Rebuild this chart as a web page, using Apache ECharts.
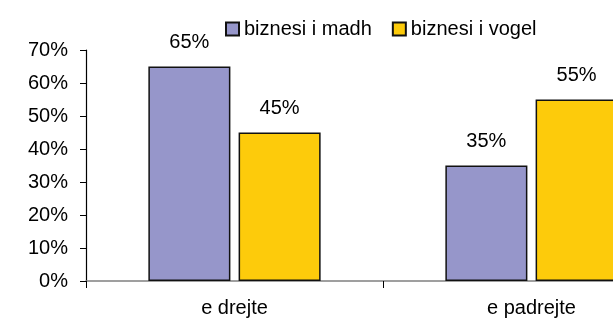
<!DOCTYPE html>
<html>
<head>
<meta charset="utf-8">
<script src="https://cdn.jsdelivr.net/npm/echarts@6/dist/echarts.min.js"></script>
<style>
  html, body { margin: 0; padding: 0; background: #fff; overflow: hidden; }
  /* the plot runs past the right edge of the 613px view */
  #chart { width: 680px; height: 326px; }
</style>
</head>
<body>
<div id="chart"></div>
<script>
// Categories and the two business-size series (percent)
const categories = ['e drejte', 'e padrejte'];
const seriesNames = ['biznesi i madh', 'biznesi i vogel'];
const bigBusiness = [65, 35];
const smallBusiness = [45, 55];
const yTicks = [0, 10, 20, 30, 40, 50, 60, 70];

const font = 'Liberation Sans, Arial, sans-serif';
const chart = echarts.init(document.getElementById('chart'));

function barSeries(name, values, color) {
  return {
    name: name,
    type: 'bar',
    data: values,
    barGap: '10%',
    barCategoryGap: '42%',
    itemStyle: { color: color, borderColor: '#111', borderWidth: 1.5 },
    label: {
      show: true,
      position: 'top',
      distance: 14,
      formatter: p => p.value + '%',
      color: '#000',
      fontFamily: font,
      fontSize: 20
    }
  };
}

chart.setOption({
  animation: false,
  backgroundColor: '#fff',
  grid: { left: 86, top: 50, bottom: 45, right: 0, containLabel: false },
  legend: {
    left: 220,
    top: 14,
    itemWidth: 13,
    itemHeight: 13,
    itemGap: 20,
    icon: 'rect',
    textStyle: { fontFamily: font, fontSize: 20, color: '#000' },
    data: seriesNames
  },
  xAxis: {
    type: 'category',
    data: categories,
    axisLine: { lineStyle: { color: '#808080', width: 1.5 } },
    axisTick: { show: true, length: 7, lineStyle: { color: '#000' } },
    axisLabel: { fontFamily: font, fontSize: 20, color: '#000', margin: 17 }
  },
  yAxis: {
    type: 'value',
    min: yTicks[0],
    max: yTicks[yTicks.length - 1],
    interval: 10,
    splitLine: { show: false },
    axisLine: { show: true, lineStyle: { color: '#000', width: 1.2 } },
    axisTick: { show: true, length: 6, lineStyle: { color: '#000' } },
    axisLabel: {
      formatter: v => v + '%',
      fontFamily: font, fontSize: 20, color: '#000', margin: 18
    }
  },
  series: [
    barSeries(seriesNames[0], bigBusiness, '#9696CA'),
    barSeries(seriesNames[1], smallBusiness, '#FDCB0B')
  ]
});
</script>
</body>
</html>
